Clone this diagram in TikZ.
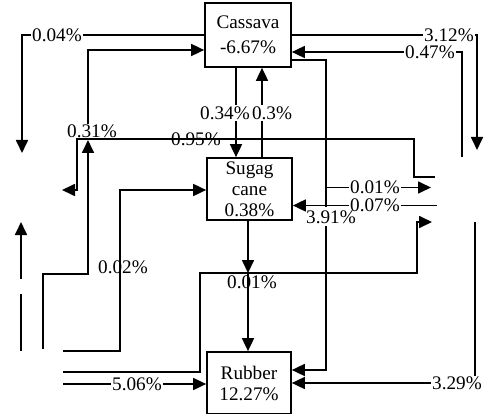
\documentclass[tikz,border=0pt]{standalone}
\usepackage{fontspec}
\setmainfont{Liberation Serif}
\usetikzlibrary{arrows.meta}
\begin{document}
\begin{tikzpicture}[x=1pt,y=-1pt,
  txt/.style={font=\fontsize{19.2}{21}\selectfont},
  box/.style={txt,draw,line width=1.7pt,align=center,inner sep=0pt},
  ln/.style={line width=1.7pt},
  arr/.style={line width=1.7pt,-{Triangle[length=13pt,width=12pt]}},
  lab/.style={txt,inner sep=1pt},
  labf/.style={txt,inner sep=1pt,fill=white}]
\useasboundingbox (0,0) rectangle (484,414);
% boxes
\node[box,minimum width=86pt,minimum height=64pt] (cas) at (248,35) {Cassava\\[4pt]-6.67\%};
\node[box,minimum width=85pt,minimum height=62pt] (sug) at (249.5,189) {Sugag\\cane\\0.38\%};
\node[box,minimum width=84pt,minimum height=62pt] (rub) at (249,383) {Rubber\\12.27\%};
% labels
\node[lab] (l004) at (57,35) {0.04\%};
\node[lab] (l031) at (92,131) {0.31\%};
\node[lab] (l312) at (449,35) {3.12\%};
\node[lab] (l047) at (430,52) {0.47\%};
\node[lab] (l391) at (331,217) {3.91\%};
\node[lab] (l506) at (137,384) {5.06\%};
\node[lab] (l329) at (457,383) {3.29\%};
\node[lab] (l007) at (375,205.5) {0.07\%};
\node[lab] (l001b) at (375,187.5) {0.01\%};
% coordinates
\coordinate (a004) at (22,153);
\coordinate (s031) at (43,349);
\coordinate (t031) at (88,140);
\coordinate (s095) at (435,177);
\coordinate (t095) at (62,190);
\coordinate (t312) at (477,150);
\coordinate (s047) at (462,157);
\coordinate (s002) at (63,351);
\coordinate (sup1) at (21,279);
\coordinate (tup1) at (21,222);
\coordinate (sv1) at (21,294);
\coordinate (tv1) at (21,351);
\coordinate (s001) at (63,372);
\coordinate (t001) at (432,222);
\coordinate (j001) at (248,273);
\coordinate (s506) at (63,384);
\coordinate (s329) at (475,222);
\coordinate (e329) at (475,376);
\coordinate (t001b) at (431,187.5);
\coordinate (s007) at (437,205.5);
% connectors
\draw[ln] (cas.west) -- (l004);
\draw[arr] (l004) -| (a004);
\draw[arr] (s031) |- (88,274) -- (t031);
\draw[arr] (88,124) |- (cas.west |- 0,50);
\draw[arr] (s095) -| (414,139) -- (77,139) |- (t095);
\draw[ln] (cas.east) -- (l312);
\draw[arr] (l312) -| (t312);
\draw[ln] (s047) |- (l047);
\draw[arr] (l047) -- (cas.east |- 0,52);
\draw[ln] (cas.east |- 0,60) -| (326,207);
\draw[arr] (326,226) |- (rub.east |- 0,370);
\draw[ln] (326,187.5) -- (l001b);
\draw[arr] (l001b) -- (t001b);
\draw[ln] (s007) -- (l007);
\draw[arr] (l007) -- (sug.east |- 0,205.5);
\draw[arr] (cas.south -| 236,0) -- (sug.north -| 236,0);
\draw[arr] (sug.north -| 262,0) -- (cas.south -| 262,0);
\draw[arr] (s002) -| (120,190) -- (sug.west |- 0,190);
\draw[arr] (sup1) -- (tup1);
\draw[ln] (sv1) -- (tv1);
\draw[arr] (sug.south -| 248,0) -- (j001);
\draw[arr] (s001) -| (200,273) -| (417,222) -- (t001);
\draw[arr] (j001) -- (rub.north -| 248,0);
\draw[ln] (s506) -- (l506);
\draw[arr] (l506) -- (rub.west |- 0,384);
\draw[ln] (s329) -- (e329);
\draw[arr] (l329) -- (rub.east |- 0,383);
% labels over lines
\node[labf] (l034) at (225,113) {0.34\%};
\node[labf] (l03) at (272,113) {0.3\%};
\node[lab] (l095) at (196,139) {0.95\%};
\node[lab] (l002) at (123,267) {0.02\%};
\node[lab] (l001) at (252,282) {0.01\%};
\end{tikzpicture}
\end{document}
